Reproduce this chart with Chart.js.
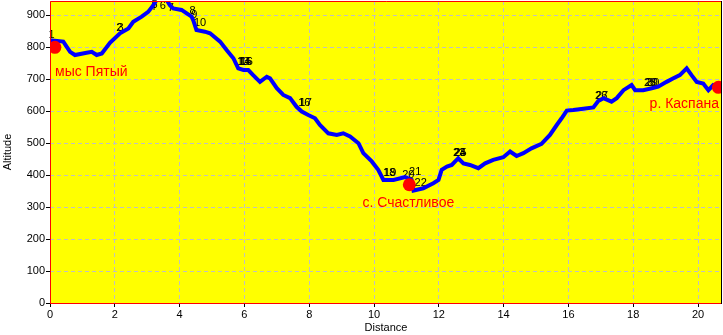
<!DOCTYPE html>
<html>
<head>
<meta charset="utf-8">
<script src="https://cdn.jsdelivr.net/npm/chart.js@4/dist/chart.umd.min.js"></script>
<style>
html,body{margin:0;padding:0;background:#fff;}
#wrap{width:723px;height:335px;position:relative;}
</style>
</head>
<body>
<div id="wrap"><canvas id="c" width="723" height="335"></canvas></div>
<script>
// Track profile: distance (km) and altitude (m)
const distance = [0.00,0.41,0.62,0.77,1.13,1.29,1.44,1.60,1.85,2.16,2.42,2.57,2.83,3.03,3.19,3.29,3.45,3.60,3.70,3.80,4.06,4.22,4.37,4.42,4.52,4.78,4.94,5.25,5.45,5.66,5.81,5.97,6.12,6.27,6.48,6.69,6.79,7.00,7.20,7.41,7.61,7.77,7.97,8.18,8.33,8.59,8.85,9.05,9.26,9.52,9.67,9.93,10.13,10.29,10.60,10.96,11.16,11.22,11.52,11.83,11.99,12.09,12.25,12.40,12.60,12.76,12.96,13.22,13.43,13.68,13.99,14.20,14.40,14.61,14.86,15.17,15.43,15.64,15.79,15.95,16.15,16.46,16.77,16.92,17.08,17.33,17.49,17.70,17.95,18.06,18.31,18.57,18.77,19.03,19.24,19.44,19.65,19.80,19.96,20.16,20.32,20.47,20.63,20.70];
const altitude = [822,818,786,776,783,786,776,781,814,844,859,880,896,911,932,948,952,948,932,922,917,906,896,885,854,849,844,818,792,766,734,729,729,713,692,708,703,672,651,641,614,599,588,578,557,531,526,531,521,500,469,443,417,385,385,394,385,352,359,375,385,417,427,432,453,437,432,422,437,448,456,474,460,469,484,498,526,557,578,602,604,608,612,632,641,630,641,666,682,666,666,672,677,692,703,713,734,713,692,687,666,682,677,677];

// Named places (red markers)
const placeX = [0.15, 11.09, 20.63];
const placeY = [800, 370, 675];
const placeName = ['мыс Пятый', 'с. Счастливое', 'р. Каспана'];

// Waypoint numbers
const wpX = [0.05, 2.14, 2.18, 3.17, 3.23, 3.48, 3.73, 4.40, 4.45, 4.63, 5.96, 6.00, 6.04, 6.07, 7.85, 7.89, 10.47, 10.50, 11.06, 11.27, 11.44, 12.63, 12.65, 12.67, 17.01, 17.04, 18.52, 18.57, 18.62];
const wpY = [838, 862, 862, 927, 932, 929, 922, 913, 901, 875, 754, 754, 754, 754, 625, 625, 406, 406, 401, 411, 375, 469, 469, 469, 649, 649, 688, 688, 688];
const wpText = ['1','2','3','4','5','6','7','8','9','10','13','14','15','16','16','17','18','19','20','21','22','23','24','25','26','27','28','29','30'];

// Axis ticks
const xTicks = [0,2,4,6,8,10,12,14,16,18,20];
const yTicks = [0,100,200,300,400,500,600,700,800,900];
const xMax = 20.74, yMax = 945;

const FONT = '"Liberation Sans", Arial, sans-serif';

const bgPlugin = {
  id: 'bg',
  beforeDraw(chart) {
    const {ctx, chartArea: a} = chart;
    ctx.save();
    ctx.fillStyle = '#ffff00';
    ctx.fillRect(a.left, a.top, a.right - a.left, a.bottom - a.top);
    ctx.restore();
  },
  beforeDatasetsDraw(chart) {
    const {ctx, scales: {x, y}} = chart;
    ctx.save();
    ctx.font = '11px ' + FONT;
    ctx.fillStyle = '#000';
    ctx.textAlign = 'center';
    ctx.textBaseline = 'middle';
    for (let i = 0; i < wpText.length; i++) {
      ctx.fillText(wpText[i], x.getPixelForValue(wpX[i]), y.getPixelForValue(wpY[i]));
    }
    ctx.restore();
  },
  afterDraw(chart) {
    const {ctx, chartArea: a, scales: {x, y}} = chart;
    ctx.save();
    // place names
    ctx.font = '14px ' + FONT;
    ctx.fillStyle = '#ff0000';
    ctx.textBaseline = 'middle';
    const aligns = ['left', 'center', 'right'];
    const dx = [0, -1, 1];
    const dy = [25, 18, 17];
    for (let i = 0; i < placeName.length; i++) {
      ctx.textAlign = aligns[i];
      let px = x.getPixelForValue(placeX[i]) + dx[i];
      if (i === 0) px = a.left + 5;
      if (i === 2) px = a.right - 3;
      ctx.fillText(placeName[i], px, y.getPixelForValue(placeY[i]) + dy[i]);
    }
    // frame
    ctx.lineWidth = 1;
    ctx.strokeStyle = '#ff0000';
    ctx.beginPath();
    ctx.moveTo(a.left + 0.5, a.bottom + 0.5);
    ctx.lineTo(a.left + 0.5, a.top + 0.5);
    ctx.lineTo(a.right, a.top + 0.5);
    ctx.moveTo(a.left, a.bottom + 0.5);
    ctx.lineTo(a.right, a.bottom + 0.5);
    ctx.stroke();
    ctx.strokeStyle = '#000000';
    ctx.beginPath();
    ctx.moveTo(a.right - 0.5, a.top);
    ctx.lineTo(a.right - 0.5, a.bottom + 1);
    ctx.stroke();
    ctx.restore();
  }
};

new Chart(document.getElementById('c'), {
  type: 'line',
  data: {
    datasets: [
      {
        data: distance.map((d, i) => ({x: d, y: altitude[i]})),
        borderColor: '#0000ff',
        borderWidth: 4,
        pointRadius: 0,
        tension: 0,
        fill: false,
        order: 2
      },
      {
        type: 'scatter',
        data: placeX.map((d, i) => ({x: d, y: placeY[i]})),
        backgroundColor: '#ff0000',
        borderColor: '#ff0000',
        pointRadius: 6.5,
        borderWidth: 0,
        showLine: false,
        order: 1
      }
    ]
  },
  options: {
    responsive: false,
    animation: false,
    devicePixelRatio: 1,
    layout: {autoPadding: false, padding: {top: 1, right: 1, left: 0, bottom: 0}},
    plugins: {legend: {display: false}, tooltip: {enabled: false}},
    scales: {
      x: {
        type: 'linear',
        min: 0, max: xMax,
        afterBuildTicks: (ax) => { ax.ticks = xTicks.map(v => ({value: v})); },
        afterFit: (ax) => { ax.height = 32; ax.paddingLeft = 0; ax.paddingRight = 0; },
        ticks: {font: {family: FONT, size: 11}, color: '#000', padding: 1, maxRotation: 0, autoSkip: false},
        grid: {color: (c) => c.tick && c.tick.value === 0 ? 'rgba(0,0,0,0)' : '#c0c0c0', tickColor: '#000', tickLength: 4, lineWidth: 1},
        border: {display: false, dash: [4, 3]},
        title: {display: true, text: 'Distance', color: '#000', font: {family: FONT, size: 11}, padding: {top: 0, bottom: 0}}
      },
      y: {
        min: 0, max: yMax,
        afterBuildTicks: (ax) => { ax.ticks = yTicks.map(v => ({value: v})); },
        afterFit: (ax) => { ax.width = 50; ax.paddingTop = 0; ax.paddingBottom = 0; },
        ticks: {font: {family: FONT, size: 11}, color: '#000', padding: 1, autoSkip: false},
        grid: {color: (c) => c.tick && c.tick.value === 0 ? 'rgba(0,0,0,0)' : '#c0c0c0', tickColor: '#000', tickLength: 4, lineWidth: 1},
        border: {display: false, dash: [4, 3]},
        title: {display: true, text: 'Altitude', color: '#000', font: {family: FONT, size: 11}, padding: {top: 1, bottom: 0}}
      }
    }
  },
  plugins: [bgPlugin]
});
</script>
</body>
</html>
